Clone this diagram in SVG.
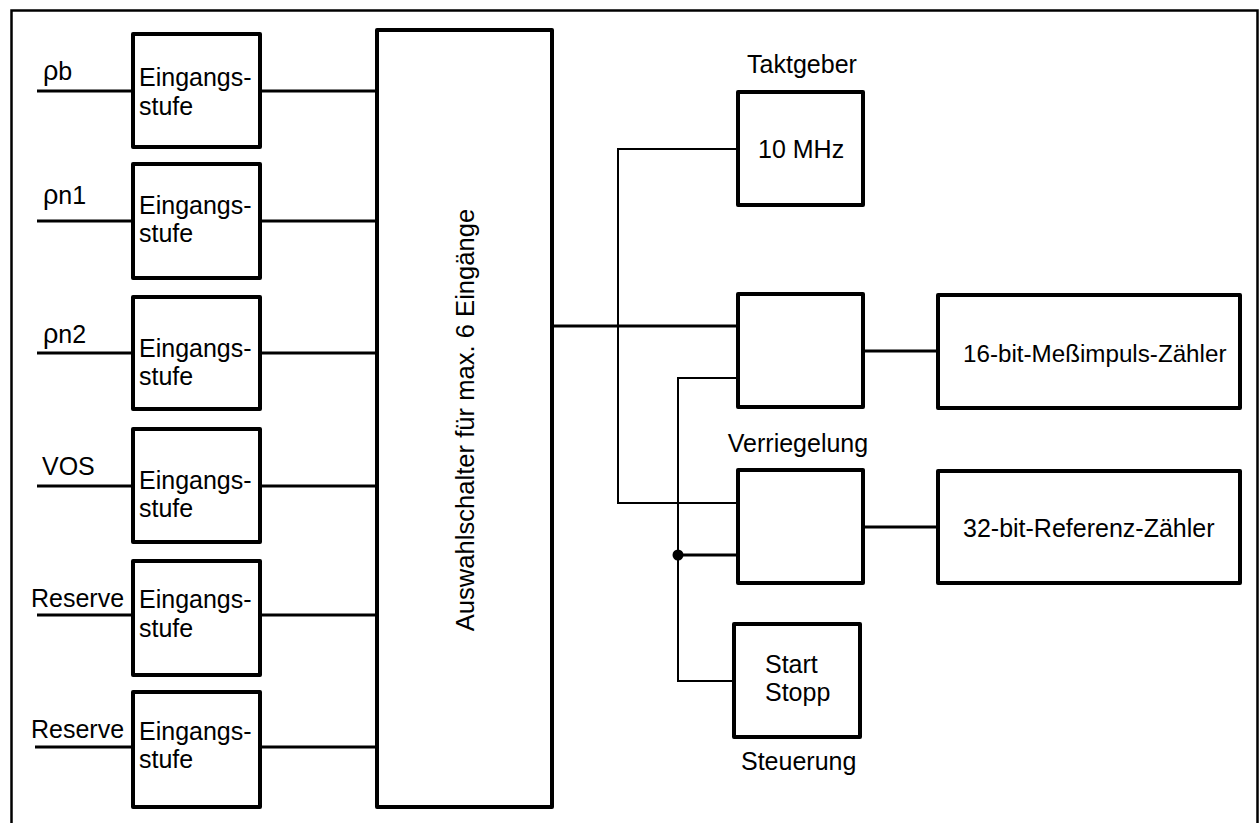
<svg xmlns="http://www.w3.org/2000/svg" width="1260" height="823" viewBox="0 0 1260 823">
<style>
.box{fill:#fff;stroke:#000;stroke-width:4;stroke-linejoin:round}
.w{fill:none;stroke:#000;stroke-width:3}
.t{fill:none;stroke:#000;stroke-width:2}
text{font-family:"Liberation Sans",Arial,sans-serif;font-size:25px;fill:#000}
.rho{font-size:27px}
</style>
<rect width="1260" height="823" fill="#fff"/>
<path id="frame" d="M11.5,823 V10.5 H1257.5 V823" fill="none" stroke="#000" stroke-width="2.5"/>
<g id="connectors">
<path class="w" d="M37,91 H133 M260,91 H377"/>
<path class="w" d="M37,221 H133 M260,221 H377"/>
<path class="w" d="M37,353 H133 M260,353 H377"/>
<path class="w" d="M37,486 H133 M260,486 H377"/>
<path class="w" d="M37,615 H133 M260,615 H377"/>
<path class="w" d="M35,747 H133 M260,747 H377"/>
<path class="w" d="M552,326 H738"/>
<path class="t" d="M738,149 H618 V503 H738"/>
<path class="t" d="M738,378 H678 V681 H734"/>
<path class="w" d="M678,555 H738"/>
<path class="w" d="M863,351 H938"/>
<path class="w" d="M863,527 H938"/>
<circle cx="678" cy="555" r="5.5" fill="#000"/>
</g>
<g id="in1"><rect class="box" x="133" y="34" width="127" height="113"/><text x="139" y="86">Eingangs-</text><text x="139" y="115">stufe</text><text x="43" y="80"><tspan class="rho">ρ</tspan>b</text></g>
<g id="in2"><rect class="box" x="133" y="164" width="127" height="114"/><text x="139" y="214">Eingangs-</text><text x="139" y="242">stufe</text><text x="43" y="204"><tspan class="rho">ρ</tspan>n1</text></g>
<g id="in3"><rect class="box" x="133" y="297" width="127" height="112"/><text x="139" y="357">Eingangs-</text><text x="139" y="385">stufe</text><text x="43" y="343"><tspan class="rho">ρ</tspan>n2</text></g>
<g id="in4"><rect class="box" x="133" y="429" width="127" height="113"/><text x="139" y="489">Eingangs-</text><text x="139" y="517">stufe</text><text x="42" y="475">VOS</text></g>
<g id="in5"><rect class="box" x="133" y="561" width="127" height="114"/><text x="139" y="608">Eingangs-</text><text x="139" y="637">stufe</text><text x="31" y="607">Reserve</text></g>
<g id="in6"><rect class="box" x="133" y="692" width="127" height="115"/><text x="139" y="740">Eingangs-</text><text x="139" y="768">stufe</text><text x="31" y="738">Reserve</text></g>
<g id="mux"><rect class="box" x="377" y="30" width="175" height="777"/><text transform="translate(474,420) rotate(-90)" text-anchor="middle" style="font-size:25.6px">Auswahlschalter für max. 6 Eingänge</text></g>
<g id="clock"><rect class="box" x="738" y="92" width="125" height="113"/><text x="758" y="158">10 MHz</text><text x="802" y="73" text-anchor="middle">Taktgeber</text></g>
<g id="gate1"><rect class="box" x="738" y="294" width="125" height="113"/></g>
<g id="gate2"><rect class="box" x="738" y="470" width="125" height="113"/><text x="798" y="452" text-anchor="middle">Verriegelung</text></g>
<g id="startstop"><rect class="box" x="734" y="624" width="126" height="113"/><text x="765" y="673">Start</text><text x="765" y="701">Stopp</text><text x="741" y="770">Steuerung</text></g>
<g id="cnt16"><rect class="box" x="938" y="295" width="302" height="113"/><text x="963" y="362" style="font-size:24.2px">16-bit-Meßimpuls-Zähler</text></g>
<g id="cnt32"><rect class="box" x="938" y="471" width="302" height="112"/><text x="963" y="537">32-bit-Referenz-Zähler</text></g>
</svg>
